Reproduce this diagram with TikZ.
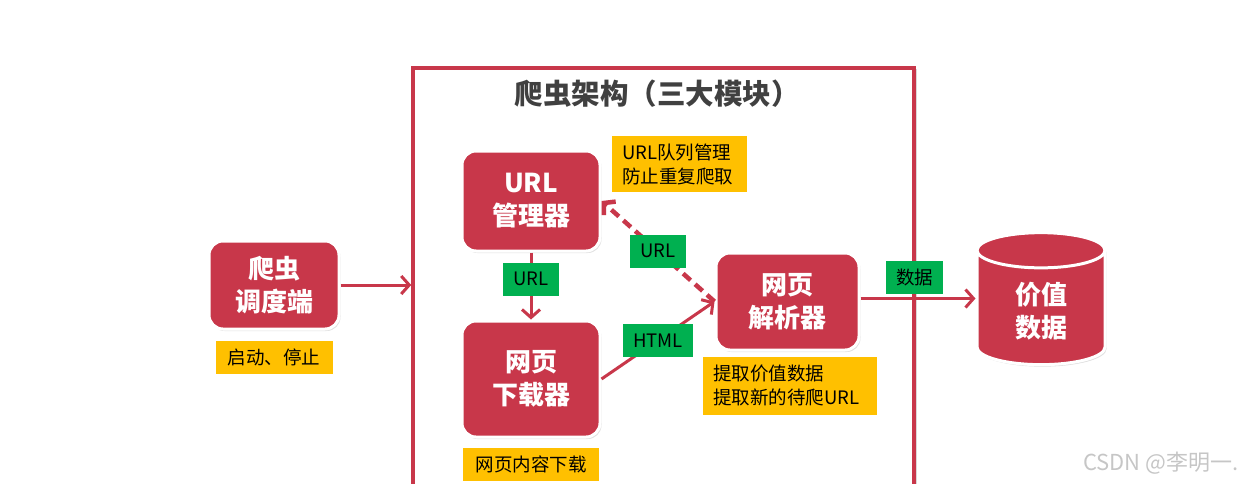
\documentclass[tikz,border=0pt]{standalone}
\usepackage{fontspec}
\setmainfont{Noto Sans CJK SC}
\usepackage{tikz}
\usetikzlibrary{shapes.geometric, arrows.meta, positioning, shadows}
\definecolor{crawlred}{HTML}{C8374A}
\definecolor{noteyellow}{HTML}{FFC000}
\definecolor{taggreen}{HTML}{00B050}
\definecolor{titlegray}{HTML}{404040}

\begin{document}
\begin{tikzpicture}[
        x=1pt, y=-1pt,
        module/.style={rectangle, rounded corners=14pt, draw=white, line width=3pt, fill=crawlred, text=white, font=\fontsize{26}{33}\selectfont\bfseries, align=center, drop shadow={opacity=0.25, shadow xshift=1.5pt, shadow yshift=-2pt}},
        store/.style={cylinder, shape border rotate=90, aspect=0.6, draw=white, line width=3pt, fill=crawlred, text=white, font=\fontsize{26}{33}\selectfont\bfseries, align=center, drop shadow={opacity=0.25, shadow xshift=1.5pt, shadow yshift=-2pt}},
        note/.style={rectangle, fill=noteyellow, font=\fontsize{18.5}{24}\selectfont, align=left, inner xsep=10pt, inner ysep=4pt},
        tag/.style={rectangle, fill=taggreen, font=\fontsize{18.5}{24}\selectfont, minimum height=33pt, inner xsep=10pt},
        flow/.style={draw=crawlred, line width=3pt, -{Straight Barb[length=8pt, width=18pt]}}
    ]
        \useasboundingbox (0,0) rectangle (1244,483);
        \clip (0,0) rectangle (1244,483);

        % the three-module frame
        \node[draw=crawlred, line width=3.5pt, fill=white, minimum width=501pt, minimum height=432pt, drop shadow={opacity=0.3, shadow xshift=3pt, shadow yshift=-1pt}] (frame) at (663.5,284) {};
        \node[font=\fontsize{28.5}{28.5}\selectfont\bfseries, text=titlegray] (title) at (657,94) {爬虫架构（三大模块）};

        \node[module, minimum width=130pt, minimum height=88pt] (sched) at (274,285) {爬虫\\调度端};
        \node[module, minimum width=138pt, minimum height=100pt] (urlmgr) at (531,201) {URL\\管理器};
        \node[module, minimum width=138pt, minimum height=116pt] (down) at (531,379) {网页\\下载器};
        \node[module, minimum width=143pt, minimum height=97pt] (parser) at (787.5,301.5) {网页\\解析器};
        \node[store, minimum width=128pt, minimum height=132pt] (db) at (1041,311) {价值\\数据};
        \draw[white, line width=3pt] ([yshift=-19pt]db.north) ++(-64,0) arc[start angle=180, end angle=0, x radius=64pt, y radius=19pt];

        % notes
        \node[note, below=10pt of sched, minimum width=117pt, minimum height=33pt, align=center] (schednote) {启动、停止};
        \node[note, text width=115pt, minimum height=56pt] (urlnote) at (679.5,164) {URL队列管理\\防止重复爬取};
        \node[note, below=9pt of down, minimum width=136pt, minimum height=33pt, align=center] (downnote) {网页内容下载};
        \node[note, below=5pt of parser, xshift=2.5pt, text width=154pt, minimum height=58pt] (parsenote) {提取价值数据\\提取新的待爬URL};

        % connectors
        \draw[flow] (sched.east) -- (sched.east -| frame.west);
        \draw[flow] (urlmgr.south) -- node[tag, pos=0.4] (tagurl) {URL} (down.north);
        \draw[flow] (down.east) -- node[tag, pos=0.5] (taghtml) {HTML} (parser.west);
        \draw[flow, line width=4.5pt, dash pattern=on 10pt off 6pt] (parser.west) -- node[tag, pos=0.5] (tagnew) {URL} (urlmgr.east);
        \draw[flow] ([yshift=3pt]parser.east) -- node[tag, above=3pt, pos=0.47] (tagdata) {数据} ([yshift=3pt]parser.east -| db.west);

        \node[anchor=east, text=gray!45, font=\fontsize{22}{22}\selectfont] (mark) at (1242,463) {CSDN @李明一.};
    \end{tikzpicture}
\end{document}
